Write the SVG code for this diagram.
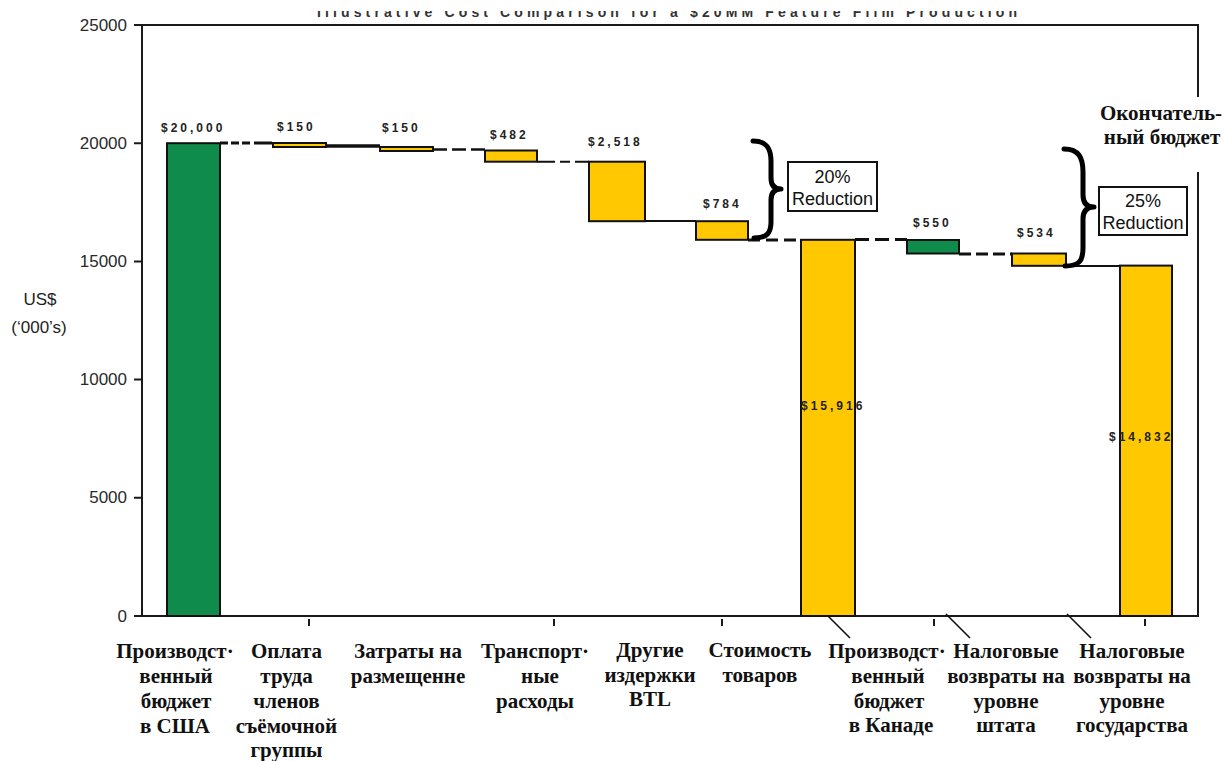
<svg xmlns="http://www.w3.org/2000/svg" width="1226" height="761" viewBox="0 0 1226 761">
<style>
.ax{stroke:#1a1a1a;stroke-width:2;fill:none}
.tick{font-family:"Liberation Sans",Arial,sans-serif;font-size:17px;fill:#2a2a2a;text-anchor:end}
.bar{stroke:#111;stroke-width:2}
.g{fill:#0f8c4b}
.y{fill:#ffc800}
.val{font-family:"Liberation Sans",Arial,sans-serif;font-size:12px;font-weight:bold;fill:#222;letter-spacing:3px}
.cat{font-family:"Liberation Serif","Times New Roman",serif;font-size:21px;font-weight:bold;fill:#111;text-anchor:middle}
.red{font-family:"Liberation Sans",Arial,sans-serif;font-size:18px;fill:#111;text-anchor:middle}
.box{fill:#fff;stroke:#111;stroke-width:2}
.brace{fill:none;stroke:#000;stroke-width:5;stroke-linecap:round;stroke-linejoin:round}
.c{stroke:#111;fill:none}
.lead{stroke:#111;stroke-width:1.6}
</style>
<defs>
<clipPath id="tc"><rect x="0" y="11" width="1226" height="20"/></clipPath>
</defs>
<rect width="1226" height="761" fill="#fff"/>
<g id="title" clip-path="url(#tc)">
<text x="317" y="17" textLength="700" lengthAdjust="spacing" font-family="Liberation Sans,Arial,sans-serif" font-size="14" font-weight="bold" fill="#333">Illustrative Cost Comparison for a $20MM Feature Film Production</text>
</g>
<g id="axes">
<rect class="ax" x="142" y="25" width="1056" height="591"/>
<path class="ax" d="M134 25H142M134 143.2H142M134 261.4H142M134 379.6H142M134 497.8H142M134 616H142"/>
<path class="ax" d="M309 619V626M554 619V626M722 619V626M934 619V626M1145 619V626"/>
<text class="tick" x="127" y="31">25000</text>
<text class="tick" x="127" y="149">20000</text>
<text class="tick" x="127" y="267">15000</text>
<text class="tick" x="127" y="385">10000</text>
<text class="tick" x="127" y="503">5000</text>
<text class="tick" x="127" y="622">0</text>
<text x="40" y="305" font-family="Liberation Sans,Arial,sans-serif" font-size="17" fill="#222" text-anchor="middle">US$</text>
<text x="39" y="333" font-family="Liberation Sans,Arial,sans-serif" font-size="17" fill="#222" text-anchor="middle">(‘000’s)</text>
</g>
<g id="connectors">
<path class="c" stroke-width="3" stroke-dasharray="8 3 8 3 8 4 18 4" d="M220 143H273"/>
<path class="c" stroke-width="3.5" d="M326 146H380"/>
<path class="c" stroke-width="2.5" stroke-dasharray="14 5" d="M433 149.5H485"/>
<path class="c" stroke-width="2" stroke-dasharray="18 5 10 5" d="M537 161.7H589"/>
<path class="c" stroke-width="2" d="M645 221H696"/>
<path class="c" stroke-width="3" stroke-dasharray="12 6" d="M748 240H801"/>
<path class="c" stroke-width="3" stroke-dasharray="14 6" d="M855 239.5H907"/>
<path class="c" stroke-width="3" stroke-dasharray="12 5" d="M959 254H1012"/>
<path class="c" stroke-width="2" d="M1066 266H1120"/>
<path class="lead" d="M825 613L850 638M946 614L970 638M1067 614L1091 638"/>
</g>
<g id="bar-us">
<rect class="bar g" x="167" y="143.2" width="53" height="472.8"/>
<text class="val" x="161" y="132">$20,000</text>
</g>
<g id="bar-crew">
<rect class="bar y" x="273" y="143" width="53" height="4"/>
<text class="val" x="277" y="131">$150</text>
</g>
<g id="bar-lodging">
<rect class="bar y" x="380" y="147" width="53" height="4"/>
<text class="val" x="382" y="132">$150</text>
</g>
<g id="bar-transport">
<rect class="bar y" x="485" y="150.5" width="52" height="11.2"/>
<text class="val" x="490" y="139">$482</text>
</g>
<g id="bar-btl">
<rect class="bar y" x="589" y="161.7" width="56" height="59.5"/>
<text class="val" x="588" y="146">$2,518</text>
</g>
<g id="bar-goods">
<rect class="bar y" x="696" y="221.2" width="52" height="18.6"/>
<text class="val" x="703" y="208">$784</text>
</g>
<g id="bar-canada">
<rect class="bar y" x="801" y="239.8" width="54" height="376.2"/>
<text class="val" x="801" y="410">$15,916</text>
</g>
<g id="bar-state">
<rect class="bar g" x="907" y="240" width="52" height="13.5"/>
<text class="val" x="913" y="227">$550</text>
</g>
<g id="bar-federal">
<rect class="bar y" x="1012" y="253.5" width="54" height="12.3"/>
<text class="val" x="1017" y="237">$534</text>
</g>
<g id="bar-final">
<rect class="bar y" x="1120" y="265.6" width="52" height="350.4"/>
<text class="val" x="1109" y="441">$14,832</text>
</g>
<g id="brace-20">
<path class="brace" d="M753 141C767 141 771 149 771 161L771 178C771 186 775 189 781 189C775 189 771 192 771 200L771 222C771 233 767 238 754 238"/>
<rect class="box" x="788" y="162" width="89" height="49"/>
<text class="red" x="832.5" y="183">20%</text>
<text class="red" x="832.5" y="205">Reduction</text>
</g>
<g id="brace-25">
<path class="brace" d="M1064 149C1079 149 1083 158 1083 172L1083 195C1083 203 1087 207 1094 207C1087 207 1083 211 1083 219L1083 248C1083 261 1079 266 1065 266"/>
<rect class="box" x="1099" y="187" width="88" height="48"/>
<text class="red" x="1143" y="207">25%</text>
<text class="red" x="1143" y="229">Reduction</text>
</g>
<g id="final-label">
<rect x="1094" y="97" width="132" height="75" fill="#fff"/>
<text class="cat" x="1161" y="120">Окончатель-</text>
<text class="cat" x="1162" y="144">ный бюджет</text>
</g>
<g id="cat-us">
<text class="cat" x="175" y="658">Производст·</text>
<text class="cat" x="176" y="683">венный</text>
<text class="cat" x="176" y="708">бюджет</text>
<text class="cat" x="175" y="733">в США</text>
</g>
<g id="cat-crew">
<text class="cat" x="286.5" y="658">Оплата</text>
<text class="cat" x="286.5" y="683">труда</text>
<text class="cat" x="286.5" y="708">членов</text>
<text class="cat" x="286.5" y="733">съёмочной</text>
<text class="cat" x="286.5" y="757">группы</text>
</g>
<g id="cat-lodging">
<text class="cat" x="408" y="658">Затраты на</text>
<text class="cat" x="408" y="683">размещенне</text>
</g>
<g id="cat-transport">
<text class="cat" x="535" y="658">Транспорт·</text>
<text class="cat" x="540" y="683">ные</text>
<text class="cat" x="535" y="708">расходы</text>
</g>
<g id="cat-btl">
<text class="cat" x="650" y="657">Другие</text>
<text class="cat" x="650" y="682">издержки</text>
<text class="cat" x="650" y="706">BTL</text>
</g>
<g id="cat-goods">
<text class="cat" x="760" y="657">Стоимость</text>
<text class="cat" x="760" y="682">товаров</text>
</g>
<g id="cat-canada">
<text class="cat" x="887" y="658">Производст·</text>
<text class="cat" x="888" y="683">венный</text>
<text class="cat" x="889" y="708">бюджет</text>
<text class="cat" x="891" y="732">в Канаде</text>
</g>
<g id="cat-state">
<text class="cat" x="1006" y="658">Налоговые</text>
<text class="cat" x="1006" y="683">возвраты на</text>
<text class="cat" x="1006" y="708">уровне</text>
<text class="cat" x="1006" y="732">штата</text>
</g>
<g id="cat-federal">
<text class="cat" x="1132" y="658">Налоговые</text>
<text class="cat" x="1132" y="683">возвраты на</text>
<text class="cat" x="1132" y="708">уровне</text>
<text class="cat" x="1132" y="732">государства</text>
</g>
</svg>
